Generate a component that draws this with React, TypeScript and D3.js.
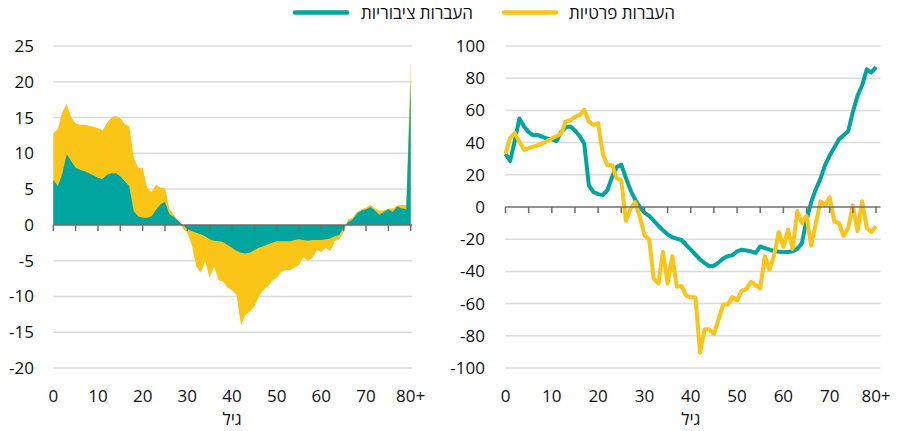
import * as d3 from 'd3';

// גיל 0..80+
const ages = d3.range(0, 81);

// לוח שמאל - סכומים מצטברים
const publicTotal = [
  6.3, 5.4, 7.1, 9.9, 8.9, 8.0, 7.7, 7.5, 7.2, 6.9, 6.6, 6.4, 7.0, 7.2, 7.2, 6.8, 6.1, 5.4, 1.9, 1.2,
  1.0, 1.0, 1.2, 2.1, 2.9, 3.2, 1.5, 1.1, 0.5, 0.0, -0.6, -0.9, -1.1, -1.3, -1.6, -2.0, -2.2, -2.3, -2.4, -2.8,
  -3.2, -3.6, -3.9, -4.0, -3.9, -3.5, -3.2, -3.0, -2.7, -2.5, -2.3, -2.3, -2.3, -2.3, -2.1, -2.0, -2.1, -2.2, -2.1, -2.1,
  -2.1, -2.0, -1.9, -1.6, -1.4, -0.4, 0.4, 0.75, 1.6, 2.0, 2.2, 2.5, 2.0, 1.4, 1.8, 2.2, 1.8, 2.6, 2.3, 2.2,
  20.0,
];
const privateTotal = [
  6.5, 8.0, 8.6, 7.0, 6.1, 6.2, 6.3, 6.5, 6.65, 6.8, 6.9, 6.8, 7.2, 7.8, 8.0, 8.1, 8.0, 8.4, 7.5, 6.8,
  7.0, 4.2, 3.4, 3.5, 2.3, 2.0, 0.7, 0.3, 0.0, -0.5, -0.5, -1.9, -4.7, -5.4, -3.5, -5.4, -3.6, -5.4, -5.5, -6.0,
  -5.9, -6.2, -10.1, -8.6, -8.2, -7.9, -6.8, -6.1, -5.9, -5.3, -5.1, -4.3, -4.0, -4.0, -3.9, -3.6, -2.4, -2.8, -2.5, -1.4,
  -1.7, -1.2, -1.8, -0.7, -0.6, -0.6, 0.4, 0.25, 0.2, 0.2, 0.2, 0.3, 0.3, 0.6, 0.2, 0.1, 0.5, 0.1, 0.5, 0.5,
  2.7,
];

// לוח ימין - לנפש
const publicPerCapita = [
  33, 28.6, 41, 55, 50, 46.5, 44.5, 44.7, 43.5, 42.5, 42, 41, 46.5, 49.5, 50, 47.5, 44, 39.4, 13.5, 9.3,
  8, 7.4, 10.4, 18.6, 24.8, 26.3, 18, 10.5, 4.5, 0, -3.5, -5.5, -8.5, -11.5, -14.5, -17, -18.8, -19.6, -20.5, -23.5,
  -26.5, -29.5, -32.5, -34.8, -36.8, -36.5, -34.5, -32, -30.5, -30, -27.5, -26.5, -27, -27.5, -28.5, -24.5, -25.5, -26.5, -27.3, -27.8,
  -28, -28, -27.5, -26, -22.5, -8, 3, 11, 17.5, 26, 32, 37, 42, 44.5, 47, 59, 69, 75.5, 85.5, 83.5,
  87,
];
const privatePerCapita = [
  33, 43, 46, 40.5, 35.5, 36.5, 37.5, 38.5, 39.5, 41, 42.5, 44, 45.5, 53, 54, 56, 57, 60.5, 53, 51,
  52, 33, 26, 26, 18, 16.5, -8.5, -1, 3, -6, -17.5, -20, -44.5, -47.5, -28, -47.5, -30.5, -49.5, -49, -55,
  -56, -56, -90.5, -76, -76, -79, -70, -60.5, -60.5, -56, -58, -52, -51, -46.5, -48.5, -50.5, -30.5, -39, -30, -15.5,
  -24.8, -14, -26, -2.5, -10, -5.5, -24, -10, 3.5, 1, 6, -9, -10, -18, -13, 1, -15, 3.5, -13, -15.5,
  -12,
];

const xTickLabels = ['0', '10', '20', '30', '40', '50', '60', '70', '80+'];
const leftYTicks = [-20, -15, -10, -5, 0, 5, 10, 15, 20, 25];
const rightYTicks = [-100, -80, -60, -40, -20, 0, 20, 40, 60, 80, 100];

const TEAL = '#00a5a0';
const YELLOW = '#fac516';
const GRID = '#dcdcdc';
const AXIS = '#6e6e6e';
const FONT = "'Open Sans', 'Noto Sans', 'DejaVu Sans', sans-serif";

const W = 897;
const H = 431;
const TOP = 46;
const BOTTOM = 368;

function Panel({ x0, x1, ext, labelX, yTicks, yDomain, children }: any) {
  const x = d3.scaleLinear().domain([0, 80]).range([x0, x1]);
  const y = d3.scaleLinear().domain(yDomain).range([BOTTOM, TOP]);
  const ticks5 = d3.range(0, 81, 5);
  return (
    <g>
      {yTicks.filter((t: number) => t !== 0).map((t: number) => (
        <line key={'g' + t} x1={x0} x2={x1 + ext} y1={y(t)} y2={y(t)} stroke={GRID} strokeWidth={1.5} />
      ))}
      {yTicks.map((t: number) => (
        <text key={'t' + t} x={labelX} y={y(t)} dy="0.35em" textAnchor="end" fontSize={17} fill="#111">
          {t}
        </text>
      ))}
      {children(x, y)}
      <line x1={x0} x2={x1 + ext} y1={y(0)} y2={y(0)} stroke={AXIS} strokeWidth={1.5} />
      {ticks5.map((t) => (
        <line key={'k' + t} x1={x(t)} x2={x(t)} y1={y(0)} y2={y(0) + 6} stroke={AXIS} strokeWidth={1.5} />
      ))}
      {xTickLabels.map((l, i) => (
        <text key={'x' + l} x={x(i * 10)} y={396} dy="0.35em" textAnchor="middle" fontSize={17} fill="#111">
          {l}
        </text>
      ))}
      <text x={(x0 + x1) / 2} y={419} dy="0.35em" textAnchor="middle" fontSize={17} fill="#111">
        גיל
      </text>
    </g>
  );
}

export default function App() {
  const totals = ages.map((a, i) => publicTotal[i] + privateTotal[i]);

  return (
    <svg width={W} height={H} style={{ position: 'absolute', left: 0, top: 0, background: '#fff' }} fontFamily={FONT}>
      {/* מקרא */}
      <line x1={295} x2={347} y1={12.5} y2={12.5} stroke={TEAL} strokeWidth={4.5} strokeLinecap="round" />
      <text x={473} y={13} dy="0.35em" textAnchor="end" fontSize={17} fill="#111">העברות ציבוריות</text>
      <line x1={504} x2={556} y1={12.5} y2={12.5} stroke={YELLOW} strokeWidth={4.5} strokeLinecap="round" />
      <text x={675} y={13} dy="0.35em" textAnchor="end" fontSize={17} fill="#111">העברות פרטיות</text>

      <Panel x0={53.3} x1={410.7} ext={1.5} labelX={34} yTicks={leftYTicks} yDomain={[-20, 25]}>
        {(x: any, y: any) => {
          const area = d3.area<number>()
            .x((_, i) => x(ages[i]))
            .y0(y(0))
            .y1((d) => y(d));
          return (
            <g>
              <path d={area(totals) || ''} fill={YELLOW} />
              <path d={area(publicTotal) || ''} fill={TEAL} />
            </g>
          );
        }}
      </Panel>

      <Panel x0={505.5} x1={876} ext={4.5} labelX={485} yTicks={rightYTicks} yDomain={[-100, 100]}>
        {(x: any, y: any) => {
          const line = d3.line<number>()
            .x((_, i) => x(ages[i]))
            .y((d) => y(d));
          return (
            <g>
              <path d={line(publicPerCapita) || ''} fill="none" stroke={TEAL} strokeWidth={4} strokeLinejoin="round" />
              <path d={line(privatePerCapita) || ''} fill="none" stroke={YELLOW} strokeWidth={4} strokeLinejoin="round" />
            </g>
          );
        }}
      </Panel>
    </svg>
  );
}
